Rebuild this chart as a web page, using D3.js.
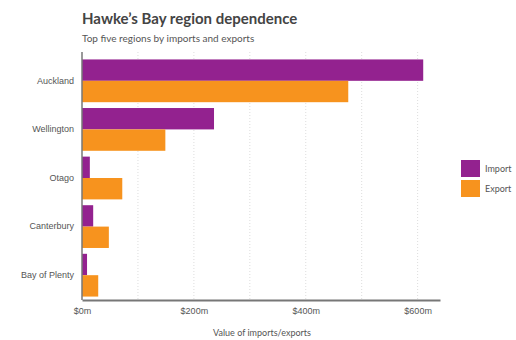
<!DOCTYPE html>
<html>
<head>
<meta charset="utf-8">
<script src="https://cdn.jsdelivr.net/npm/d3@7"></script>
<style>
  body { margin: 0; background: #fff; }
  svg { font-family: Lato, "Open Sans", sans-serif; }
</style>
</head>
<body>
<svg id="chart" width="516" height="340"></svg>
<script>
// data
const regions = ["Auckland", "Wellington", "Otago", "Canterbury", "Bay of Plenty"];
const importValues = [610, 236, 14, 20, 9];
const exportValues = [476, 149, 72, 48, 29];
const seriesNames = ["Import", "Export"];
const tickValues = [0, 200, 400, 600];

const svg = d3.select("#chart");
const colour = d3.scaleOrdinal().domain(seriesNames).range(["#93228f", "#f7931e"]);

const x = d3.scaleLinear().domain([0, 640]).range([82, 440]);
const y = d3.scaleBand().domain(regions).range([57, 299]).paddingInner(0.12).paddingOuter(0.05);
const ySub = d3.scaleBand().domain(seriesNames).range([0, y.bandwidth()]);

// gridlines every $100m
svg.append("g")
  .selectAll("line")
  .data(d3.range(100, 700, 100))
  .join("line")
    .attr("x1", d => x(d)).attr("x2", d => x(d))
    .attr("y1", 52).attr("y2", 300)
    .attr("stroke", "#ddd")
    .attr("stroke-dasharray", "1,2");

// bars
const rows = regions.map((r, i) => ({ region: r, values: [importValues[i], exportValues[i]] }));
svg.append("g")
  .selectAll("g")
  .data(rows)
  .join("g")
    .attr("transform", d => `translate(0,${y(d.region)})`)
  .selectAll("rect")
  .data(d => seriesNames.map((s, j) => ({ series: s, value: d.values[j] })))
  .join("rect")
    .attr("x", x(0))
    .attr("y", d => ySub(d.series))
    .attr("width", d => x(d.value) - x(0))
    .attr("height", ySub.bandwidth())
    .attr("fill", d => colour(d.series));

// axes
const xAxis = svg.append("g")
  .attr("transform", "translate(0,300)")
  .call(d3.axisBottom(x).tickValues(tickValues).tickFormat(d => "$" + d + "m").tickSize(0).tickPadding(8));
xAxis.select(".domain").attr("stroke", "#777").attr("stroke-width", 2);
xAxis.selectAll("text").attr("fill", "#555").attr("font-size", 9);

const yAxis = svg.append("g")
  .attr("transform", `translate(${x(0)},0)`)
  .call(d3.axisLeft(y).tickSize(0).tickPadding(8));
yAxis.select(".domain").attr("stroke", "#777").attr("stroke-width", 1.5)
  .attr("d", "M0,52V300");
yAxis.selectAll("text").attr("fill", "#555").attr("font-size", 9);

// titles
svg.append("text")
  .attr("x", 82).attr("y", 24)
  .attr("font-size", 15).attr("font-weight", "bold").attr("fill", "#444")
  .text("Hawke\u2019s Bay region dependence");
svg.append("text")
  .attr("x", 82).attr("y", 42)
  .attr("font-size", 10).attr("fill", "#555")
  .text("Top five regions by imports and exports");

svg.append("text")
  .attr("x", 262).attr("y", 336)
  .attr("text-anchor", "middle")
  .attr("font-size", 9).attr("fill", "#555")
  .text("Value of imports/exports");

// legend
const legend = svg.append("g")
  .selectAll("g")
  .data(seriesNames)
  .join("g")
    .attr("transform", (d, i) => `translate(461,${160 + i * 20})`);
legend.append("rect")
  .attr("width", 19).attr("height", 17)
  .attr("fill", d => colour(d));
legend.append("text")
  .attr("x", 24).attr("y", 12)
  .attr("font-size", 9).attr("fill", "#555")
  .text(d => d);
</script>
</body>
</html>
